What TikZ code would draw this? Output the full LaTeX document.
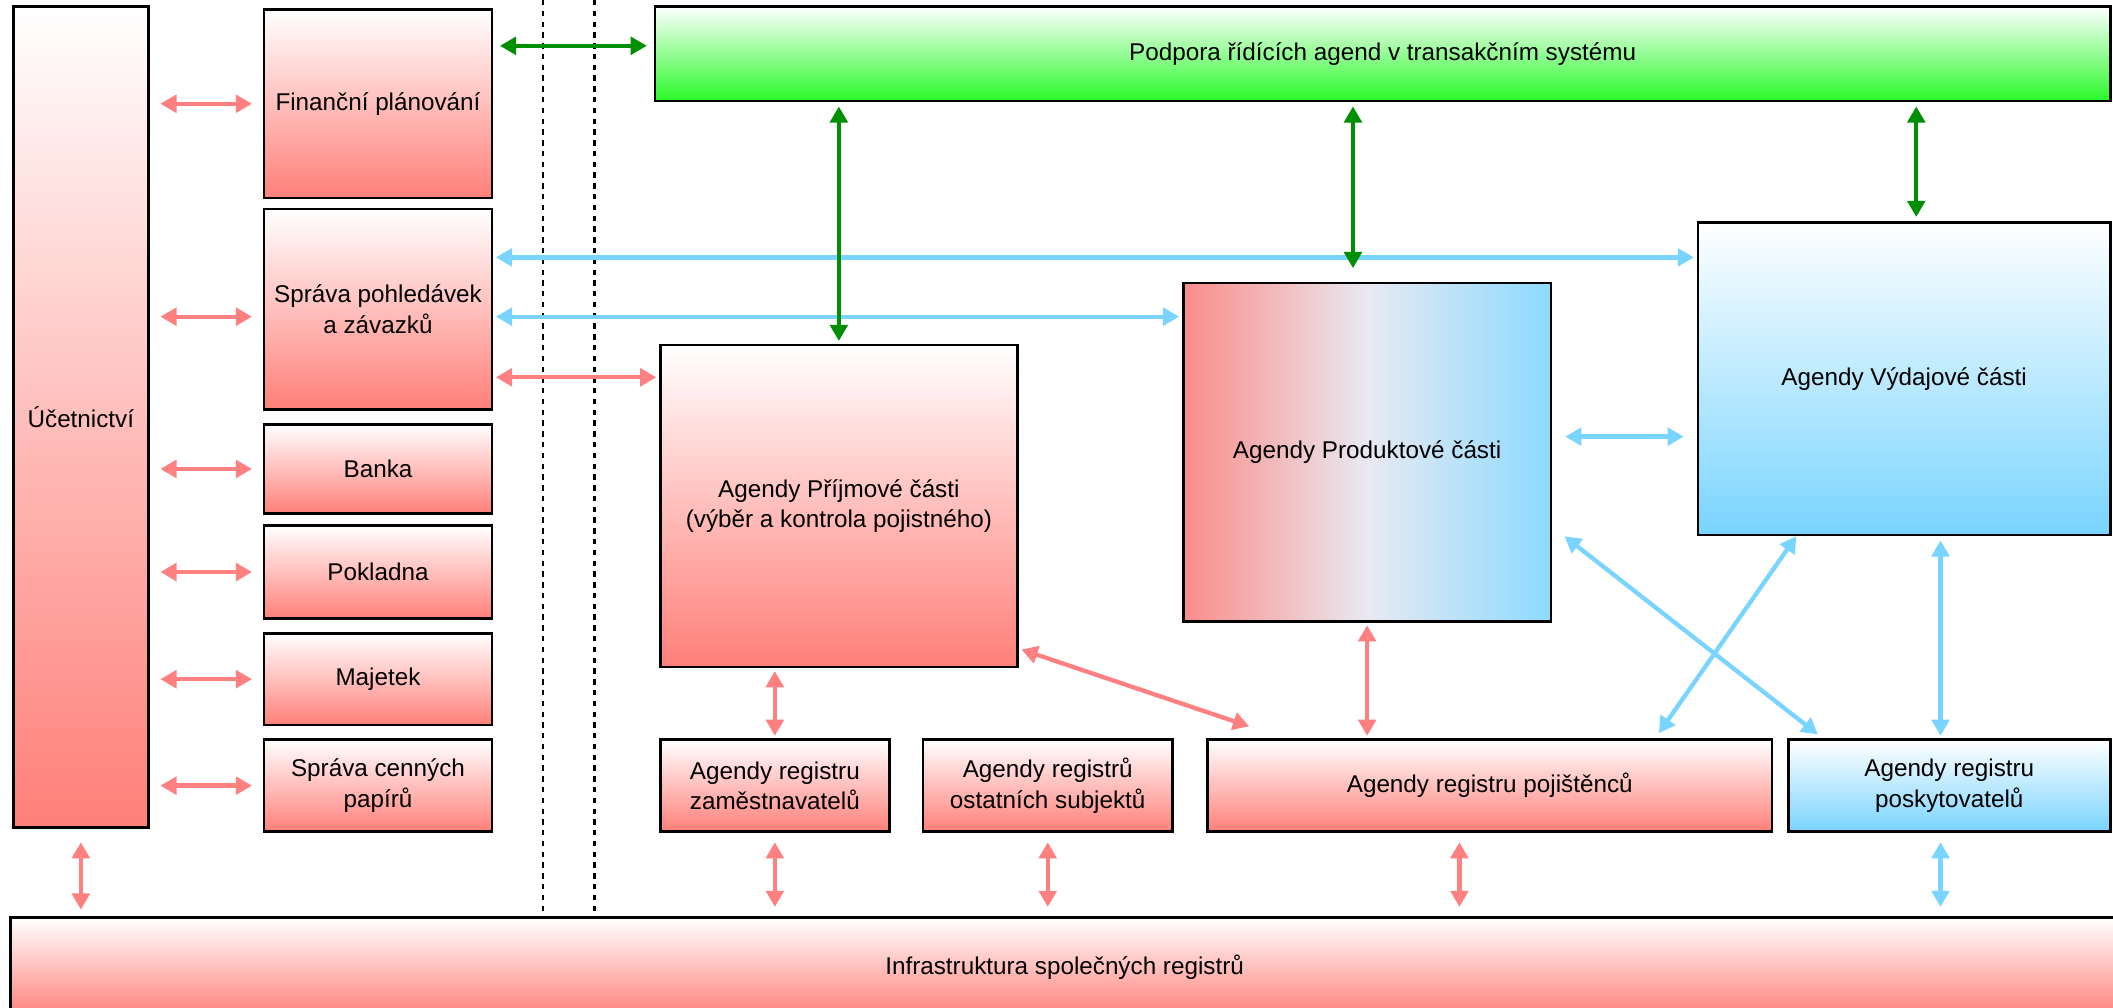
\documentclass[tikz,border=0pt]{standalone}
\usepackage{fontspec}
\setmainfont{Liberation Sans}
\usetikzlibrary{arrows.meta,calc}
\definecolor{salm}{RGB}{255,127,121}
\definecolor{redarrc}{RGB}{255,128,128}
\definecolor{skyb}{RGB}{121,212,255}
\definecolor{grn}{RGB}{40,250,40}
\definecolor{dgreen}{RGB}{0,143,0}
\definecolor{prodl}{RGB}{250,140,136}
\definecolor{prodm}{RGB}{233,233,241}
\definecolor{prodr}{RGB}{140,218,255}
\newcommand{\mkbox}[7]{%
  \pgfmathsetmacro\mkcx{(#3+#5)/2}%
  \pgfmathsetmacro\mkcy{(#4+#6)/2}%
  \pgfmathsetmacro\mkw{(#5-#3)*0.5}%
  \pgfmathsetmacro\mkh{(#6-#4)*0.5}%
  \node[#1, minimum width=\mkw pt, minimum height=\mkh pt] (#2) at (\mkcx,\mkcy) {#7};}
\begin{document}
\begin{tikzpicture}[x=0.5pt,y=-0.5pt,
 box/.style={draw=black, line width=1pt, inner sep=0pt, align=center, font=\fontsize{9}{11.25}\selectfont},
 redbox/.style={box, top color=white, bottom color=salm},
 bluebox/.style={box, top color=white, bottom color=skyb},
 greenbox/.style={box, top color=white, bottom color=grn},
 prodbox/.style={box, left color=prodl, right color=prodr, middle color=prodm},
 conn/.style={line width=1.6pt, {Triangle[length=6pt,width=6.5pt]}-{Triangle[length=6pt,width=6.5pt]}},
 redarr/.style={conn, draw=redarrc},
 bluearr/.style={conn, draw=skyb},
 greenarr/.style={conn, draw=dgreen},
 gap/.style={shorten <=#1, shorten >=#1},
 sepline/.style={draw=black, line width=0.9pt, dash pattern=on 2pt off 2pt}
]
\useasboundingbox (0,0) rectangle (1568,748);
\clip (0,0) rectangle (1568,748);

% boxes
\mkbox{redbox}{ucet}{10}{5}{110}{614}{Účetnictví}
\mkbox{redbox}{fin}{196}{7}{365}{147}{Finanční plánování}
\mkbox{redbox}{spr}{196}{155}{365}{304}{Správa pohledávek\\a závazků}
\mkbox{redbox}{banka}{196}{315}{365}{381}{Banka}
\mkbox{redbox}{pokl}{196}{390}{365}{459}{Pokladna}
\mkbox{redbox}{maj}{196}{470}{365}{538}{Majetek}
\mkbox{redbox}{cen}{196}{549}{365}{617}{Správa cenných\\papírů}
\mkbox{greenbox}{pod}{486}{5}{1566}{75}{Podpora řídících agend v transakčním systému}
\mkbox{redbox}{prij}{490}{256}{755}{495}{Agendy Příjmové části\\(výběr a kontrola pojistného)}
\mkbox{prodbox}{prod}{878}{210}{1151}{461}{Agendy Produktové části}
\mkbox{bluebox}{vyd}{1260}{165}{1566}{397}{Agendy Výdajové části}
\mkbox{redbox}{zam}{490}{549}{660}{617}{Agendy registru\\zaměstnavatelů}
\mkbox{redbox}{ost}{685}{549}{870}{617}{Agendy registrů\\ostatních subjektů}
\mkbox{redbox}{poj}{896}{549}{1315}{617}{Agendy registru pojištěnců}
\mkbox{bluebox}{posk}{1327}{549}{1566}{617}{Agendy registru\\poskytovatelů}
\mkbox{redbox}{infra}{8}{681}{1572}{755}{Infrastruktura společných registrů}

% dotted separators
\coordinate (t1) at (403,0);
\coordinate (t2) at (441,0);
\draw[sepline] (t1) -- (t1 |- infra.north);
\draw[sepline] (t2) -- (t2 |- infra.north);

% left red arrows
\foreach \n in {fin,banka,pokl,maj,cen}
  \draw[redarr, gap=4pt] (ucet.east |- \n.west) -- (\n.west);
\coordinate (s1) at ([yshift=-2.75pt]spr.west);
\draw[redarr, gap=4pt] (ucet.east |- s1) -- (s1);

% blue and red from Sprava
\coordinate (b1) at ([yshift=19.25pt]spr.east);
\draw[bluearr, gap=1pt] (b1) -- (b1 -| vyd.west);
\coordinate (b2) at ([yshift=-2.75pt]spr.east);
\draw[bluearr, gap=1pt] (b2) -- (b2 -| prod.west);
\coordinate (r1) at ([yshift=-25.25pt]spr.east);
\draw[redarr, gap=1pt] (r1) -- (r1 -| prij.west);

% green arrows
\coordinate (g0) at ([yshift=3pt]pod.west);
\draw[greenarr, gap=2.5pt] (g0 -| fin.east) -- (g0);
\draw[greenarr, shorten <=1.5pt, shorten >=1pt] (prij.north |- pod.south) -- (prij.north);
\coordinate (g2) at ([xshift=-5.25pt]prod.north);
\draw[greenarr, shorten <=1.5pt, shorten >=5pt] (g2 |- pod.south) -- (g2);
\coordinate (g3) at ([xshift=4.5pt]vyd.north);
\draw[greenarr, shorten <=1.5pt, shorten >=1.5pt] (g3 |- pod.south) -- (g3);

% Produktova <-> Vydajova
\coordinate (b3) at ([yshift=5.75pt]prod.east);
\draw[bluearr, gap=4.75pt] (b3) -- (b3 -| vyd.west);

% diagonal red Prijmova <-> pojistenci
\coordinate (d1) at ([xshift=1pt,yshift=7pt]prij.south east);
\coordinate (d2) at ([xshift=16pt,yshift=4.5pt]poj.north west);
\draw[redarr] (d1) -- (d2);

% verticals to registers
\draw[redarr, gap=1pt] (zam.north |- prij.south) -- (zam.north);
\draw[redarr, gap=1pt] (prod.south) -- (prod.south |- poj.north);

% blue diagonals
\coordinate (d3) at ([xshift=4.5pt,yshift=-31.25pt]prod.east);
\coordinate (d4) at ([xshift=11.5pt,yshift=1.5pt]posk.north west);
\draw[bluearr] (d3) -- (d4);
\coordinate (d5) at ([xshift=-40pt]vyd.south);
\coordinate (d6) at ([xshift=-42.5pt,yshift=2pt]poj.north east);
\draw[bluearr] (d5) -- (d6);
\coordinate (v1) at ([xshift=-3.25pt]posk.north);
\draw[bluearr, shorten <=1.5pt, shorten >=1pt] (v1 |- vyd.south) -- (v1);

% bottom arrows to infrastructure
\draw[redarr, shorten <=5pt, shorten >=2.5pt] (ucet.south) -- (ucet.south |- infra.north);
\draw[redarr, gap=3.5pt] (zam.south) -- (zam.south |- infra.north);
\draw[redarr, gap=3.5pt] (ost.south) -- (ost.south |- infra.north);
\coordinate (v2) at ([xshift=-11.25pt]poj.south);
\draw[redarr, gap=3.5pt] (v2) -- (v2 |- infra.north);
\coordinate (v3) at ([xshift=-3.25pt]posk.south);
\draw[bluearr, gap=3.5pt] (v3) -- (v3 |- infra.north);
\end{tikzpicture}
\end{document}
